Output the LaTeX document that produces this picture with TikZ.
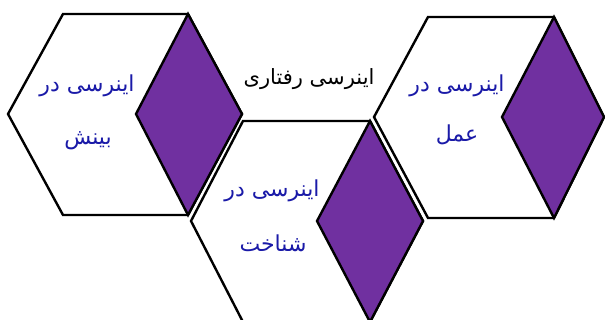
\documentclass[tikz,border=0pt]{standalone}
\usepackage{fontspec}
\newfontfamily\arabicfont[Script=Arabic]{DejaVu Sans}
\TeXXeTstate=1
\definecolor{hexpurple}{HTML}{7030A0}
\definecolor{txtblue}{HTML}{1A1AA8}
\tikzset{
  hexbox/.style={draw=black, line width=2.4pt, fill=white, line join=miter},
  diambox/.style={draw=black, line width=2.4pt, fill=hexpurple, line join=miter},
  lbl/.style={font=\arabicfont\fontsize{22}{26}\selectfont, text=txtblue, inner sep=0pt},
  blk/.style={font=\arabicfont\fontsize{21}{25}\selectfont, text=black, inner sep=0pt}
}
\begin{document}
\begin{tikzpicture}[x=1pt,y=-1pt]
\useasboundingbox (0,0) rectangle (605,320);
\begin{scope}
\clip (0,0) rectangle (605,320);
% left hexagon
\path[hexbox] (8,114) -- (63,14) -- (188,14) -- (242,114) -- (188,215) -- (63,215) -- cycle;
\path[diambox] (136,114) -- (188,14) -- (242,114) -- (188,215) -- cycle;
% right hexagon
\path[hexbox] (374,117) -- (428,17) -- (554,17) -- (604,117) -- (554,218) -- (428,218) -- cycle;
\path[diambox] (502,117) -- (554,17) -- (604,117) -- (554,218) -- cycle;
% middle hexagon
\path[hexbox] (191,221) -- (243,121) -- (370,121) -- (423,221) -- (370,322) -- (243,322) -- cycle;
\path[diambox] (317,221) -- (370,121) -- (423,221) -- (370,322) -- cycle;
\end{scope}
% labels
\node[lbl] (l1a) at (87,86) {\beginR اینرسی در\endR};
\node[lbl] (l1b) at (88,141) {\beginR بینش\endR};
\node[lbl] (l2a) at (272,191) {\beginR اینرسی در\endR};
\node[lbl] (l2b) at (273,243) {\beginR شناخت\endR};
\node[lbl] (l3a) at (457,86) {\beginR اینرسی در\endR};
\node[lbl] (l3b) at (457,135) {\beginR عمل\endR};
\node[blk] (mid) at (309,79) {\beginR اینرسی رفتاری\endR};
\end{tikzpicture}
\end{document}
